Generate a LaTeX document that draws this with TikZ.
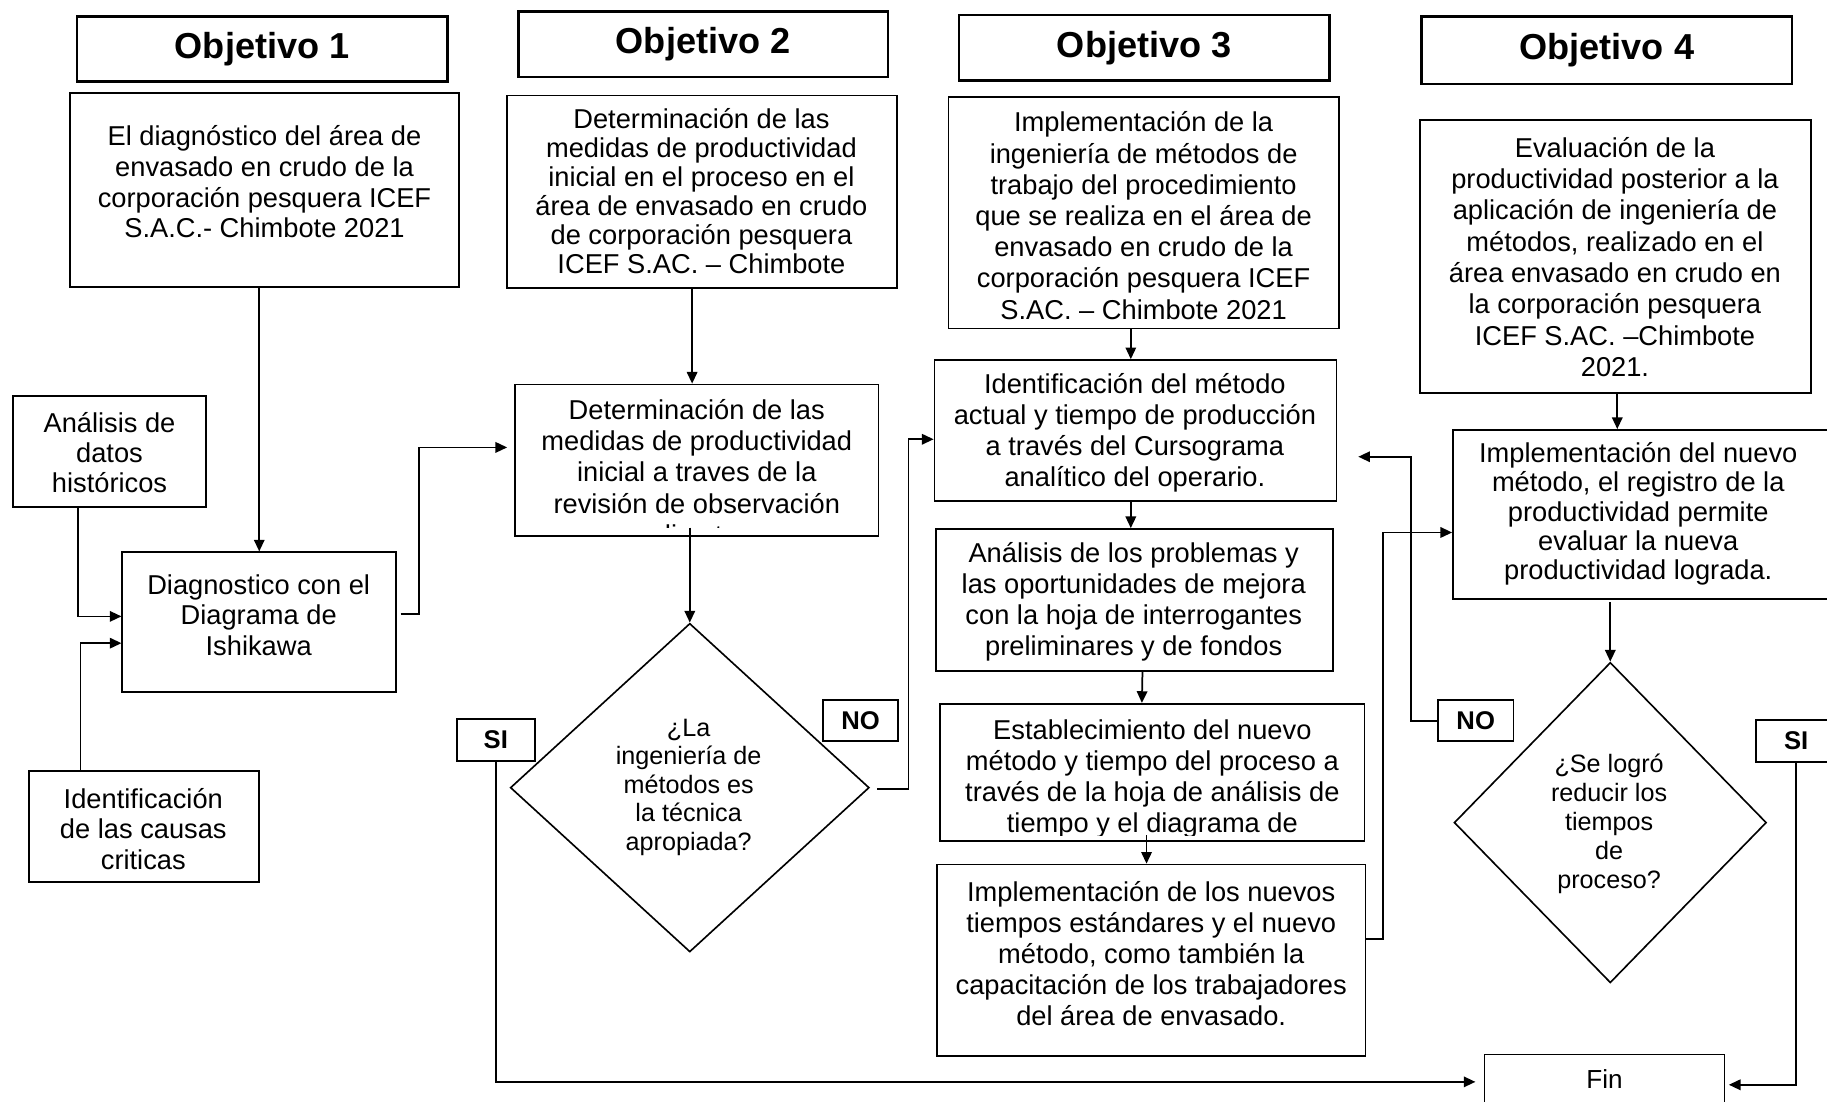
\documentclass[tikz,border=0pt]{standalone}
\usepackage{fontspec}
\setmainfont{Liberation Sans}
\usetikzlibrary{arrows.meta,calc,shapes.geometric}
\newcommand\tfs[2]{\fontsize{#1}{#2}\selectfont}
\begin{document}
\begin{tikzpicture}[x=0.5pt,y=-0.5pt,
  box/.style={draw, rectangle, line width=0.75pt, inner sep=0pt},
  hdr/.style={draw, rectangle, line width=1.1pt, inner sep=0pt, font=\tfs{15.5}{18}\bfseries},
  txt/.style={align=center, inner sep=0pt, font=\tfs{11.7}{#1}},
  txt/.default=13.3,
  lbl/.style={draw, rectangle, line width=0.75pt, inner sep=0pt, font=\tfs{11}{13}\bfseries},
  dtxt/.style={align=center, inner sep=0pt, font=\tfs{10.8}{#1}},
  dtxt/.default=12.3,
  dia/.style={draw, diamond, line width=0.7pt, inner sep=0pt},
  arr/.style={line width=0.75pt, -{Triangle[length=5pt,width=4.5pt]}},
]
\useasboundingbox (0,0) rectangle (1568,945);

% headers
\node[hdr, minimum width=159pt, minimum height=28pt] (obj1) at (225,42) {Objetivo 1};
\node[hdr, minimum width=158.5pt, minimum height=28pt] (obj2) at (603.5,38) {Objetivo 2};
\node[hdr, minimum width=159pt, minimum height=28pt] (obj3) at (982,41) {Objetivo 3};
\node[hdr, minimum width=159pt, minimum height=29pt] (obj4) at (1379,43) {Objetivo 4};

% boxes
\node[box, minimum width=167pt, minimum height=83pt] (box1) at (227,163) {};
\node[txt=13.2] (box1t) at (227,156) {El diagnóstico del área de\\envasado en crudo de la\\corporación pesquera ICEF\\S.A.C.- Chimbote 2021};

\node[box, minimum width=167.5pt, minimum height=82.5pt] (box2) at (602.5,164.5) {};
\node[txt=12.5] (box2t) at (602,164) {Determinación de las\\medidas de productividad\\inicial en el proceso en el\\área de envasado en crudo\\de corporación pesquera\\ICEF S.AC. – Chimbote};

\node[box, minimum width=167.5pt, minimum height=99.5pt] (box3) at (981.5,182.5) {};
\node[txt=13.4] (box3t) at (981.5,185) {Implementación de la\\ingeniería de métodos de\\trabajo del procedimiento\\que se realiza en el área de\\envasado en crudo de la\\corporación pesquera ICEF\\S.AC. – Chimbote 2021};

\node[box, minimum width=167.5pt, minimum height=117pt] (box4) at (1386.5,220) {};
\node[txt=13.45] (box4t) at (1386,220.5) {Evaluación de la\\productividad posterior a la\\aplicación de ingeniería de\\métodos, realizado en el\\área envasado en crudo en\\la corporación pesquera\\ICEF S.AC. –Chimbote\\2021.};

\node[box, minimum width=83pt, minimum height=47.5pt] (hist) at (94,387.5) {};
\node[txt=13] (histt) at (94,388.5) {Análisis de\\datos\\históricos};

\node[box, minimum width=117.5pt, minimum height=60pt] (diag) at (222.5,534) {};
\node[txt=13.25] (diagt) at (222,528) {Diagnostico con el\\Diagrama de\\Ishikawa};

\node[box, minimum width=98.5pt, minimum height=47.5pt] (causas) at (123.5,709.5) {};
\node[txt=13] (causast) at (123,711.5) {Identificación\\de las causas\\criticas};

\node[box, minimum width=156pt, minimum height=65pt] (detA) at (598,395) {};
\begin{scope}
  \clip (detA.north west) rectangle ($(detA.south east)+(0,-8)$);
  \node[txt=13.4] (detAt) at (598,405) {Determinación de las\\medidas de productividad\\inicial a traves de la\\revisión de observación\\directa};
\end{scope}

\node[box, minimum width=172.5pt, minimum height=60.5pt] (identif) at (974.5,369.5) {};
\node[txt=13.35] (identift) at (974,371.5) {Identificación del método\\actual y tiempo de producción\\a través del Cursograma\\analítico del operario.};

\node[box, minimum width=170.5pt, minimum height=61pt] (analisis) at (973.5,515) {};
\node[txt=13.35] (analisist) at (973,516.5) {Análisis de los problemas y\\las oportunidades de mejora\\con la hoja de interrogantes\\preliminares y de fondos};

\node[box, minimum width=182pt, minimum height=59pt] (estab) at (989,663) {};
\begin{scope}
  \clip (estab.north west) rectangle ($(estab.south east)+(0,-6)$);
  \node[txt=13.35] (estabt) at (989,668.5) {Establecimiento del nuevo\\método y tiempo del proceso a\\través de la hoja de análisis de\\tiempo y el diagrama de};
\end{scope}

\node[box, minimum width=184pt, minimum height=82pt] (implT) at (988,824) {};
\node[txt=13.25] (implTt) at (988,818.5) {Implementación de los nuevos\\tiempos estándares y el nuevo\\método, como también la\\capacitación de los trabajadores\\del área de envasado.};

\node[box, minimum width=164pt, minimum height=72.5pt] (implM) at (1411,441.5) {};
\node[txt=12.6] (implMt) at (1406,441) {Implementación del nuevo\\método, el registro de la\\productividad permite\\evaluar la nueva\\productividad lograda.};

% decisions
\node[dia, minimum width=154pt, minimum height=141pt] (dia1) at (592,676) {};
\node[dtxt=12.25] (dia1t) at (591,675.5) {¿La\\ingeniería de\\métodos es\\la técnica\\apropiada?};

\node[dia, minimum width=134pt, minimum height=137.5pt] (dia2) at (1382,706) {};
\node[dtxt=12.4] (dia2t) at (1381,707) {¿Se logró\\reducir los\\tiempos\\de\\proceso?};

% labels
\node[lbl, minimum width=33.5pt, minimum height=18pt] (siL) at (425.5,635) {SI};
\node[lbl, minimum width=32.5pt, minimum height=17.5pt] (noL) at (738.5,618.5) {NO};
\node[lbl, minimum width=32.5pt, minimum height=17.5pt] (noR) at (1266.5,618.5) {NO};
\node[lbl, minimum width=34.5pt, minimum height=18pt] (siR) at (1541.5,636) {SI};

% end
\node[box, minimum width=103pt, minimum height=27.5pt] (fin) at (1377,932.5) {};
\node[txt, font=\tfs{11.2}{13}] (fint) at (1377,926) {Fin};

% connectors
\draw[arr] (box1.south -| diag.north) -- (diag.north);
\draw[arr] ($(hist.south)+(-27,0)$) |- ($(diag.west)+(0,-5)$);
\draw[arr] ($(causas.north)+(-54.5,0)$) |- ($(diag.west)+(0,18)$);
\draw[arr] ($(diag.east)+(3,-7)$) -- ++(16,0) |- ($(detA.west)+(-6,-11)$);
\draw[arr] ($(box2.south)+(-8.5,0)$) -- ($(detA.north)+(-4,0)$);
\draw[arr] ($(detA.south -| dia1.north)+(0,-8)$) -- (dia1.north);
\draw[arr] ($(dia1.east)+(6,1)$) -- ++(27,0) |- ($(identif.west)+(0,7.5)$);
\draw[arr] (siL.south) |- ($(fin.west)+(-7,-4)$);
\draw[arr] ($(box3.south)+(-11,0)$) -- ($(identif.north)+(-4,0)$);
\draw[arr] ($(identif.south)+(-4,0)$) -- ($(analisis.north)+(-3,0)$);
\draw[arr] ($(analisis.south)+(7,0)$) -- ($(estab.north)+(-9,0)$);
\draw[arr] ($(estab.south)+(-5,-6)$) -- ($(implT.north)+(-4,0)$);
\draw[arr] ($(implT.east)+(0,-18)$) -- ++(14,0) |- ($(implM.west)+(0,15.5)$);
\draw[arr] ($(box4.south)+(1.5,0)$) -- ($(implM.north)+(-23,0)$);
\draw[arr] ($(implM.south -| dia2.north)+(0,2)$) -- (dia2.north);
\draw[arr] (noR.west) -- ++(-22,0) |- ($(identif.east)+(18,22.5)$);
\draw[arr] (siR.south) |- ($(fin.east)+(3,-1.5)$);
\end{tikzpicture}
\end{document}
